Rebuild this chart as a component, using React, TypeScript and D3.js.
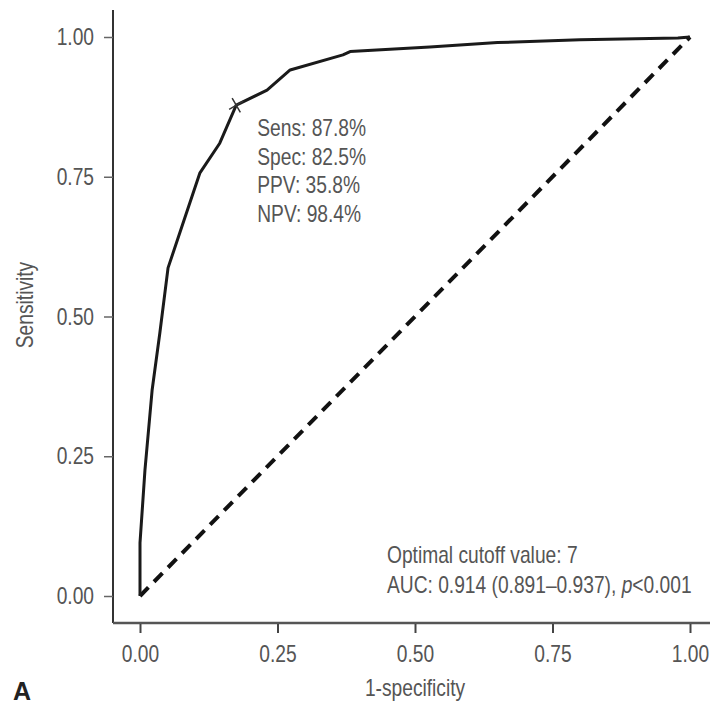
import { useEffect, useRef } from "react";
import * as d3 from "d3";

const W = 712;
const H = 707;
// plot frame (axis lines) and data range
const FRAME = { left: 113, right: 710, top: 10, bottom: 623 };
const RANGE = { x0: 140, x1: 690, y0: 596, y1: 37 };

// no condensed face installed, so squeeze a regular one horizontally
const FONT = "'Liberation Sans', Arial, sans-serif";
const SX = 0.8;
const FS = 24;
const TEXT_COLOR = "#555";

// ROC curve: 1-specificity vs sensitivity
const fpr = [0, 0, 0.009, 0.022, 0.036, 0.051, 0.08, 0.109, 0.145, 0.175, 0.231, 0.273, 0.369, 0.382, 0.527, 0.65, 0.8, 0.978, 1];
const tpr = [0, 0.095, 0.225, 0.368, 0.47, 0.587, 0.672, 0.757, 0.81, 0.878, 0.905, 0.941, 0.968, 0.974, 0.982, 0.99, 0.995, 0.998, 1];

const cutoff = { fpr: 0.175, tpr: 0.878 };
const cutoffLabels = ["Sens: 87.8%", "Spec: 82.5%", "PPV: 35.8%", "NPV: 98.4%"];
const tickValues = [0, 0.25, 0.5, 0.75, 1];

const Label = ({ x, y, rotate = 0, anchor = "start", children }) => (
  <text
    transform={`translate(${x},${y}) rotate(${rotate}) scale(${SX},1)`}
    textAnchor={anchor}
    fontFamily={FONT}
    fontSize={FS}
    fill={TEXT_COLOR}
  >
    {children}
  </text>
);

const App = () => {
  const xAxisRef = useRef(null);
  const yAxisRef = useRef(null);

  const xScale = d3.scaleLinear().domain([0, 1]).range([RANGE.x0, RANGE.x1]);
  const yScale = d3.scaleLinear().domain([0, 1]).range([RANGE.y0, RANGE.y1]);

  useEffect(() => {
    const gx = d3.select(xAxisRef.current);
    gx.selectAll("*").remove();
    gx.call(d3.axisBottom(xScale).tickValues(tickValues).tickFormat(d3.format(".2f")).tickSize(9).tickPadding(12));
    gx.select(".domain").remove();
    gx.selectAll("line").attr("stroke", "#444").attr("stroke-width", 2);
    gx.selectAll("text")
      .attr("fill", TEXT_COLOR)
      .attr("transform", `scale(${SX},1)`)
      .style("font-family", FONT)
      .style("font-size", `${FS}px`);

    const gy = d3.select(yAxisRef.current);
    gy.selectAll("*").remove();
    gy.call(d3.axisLeft(yScale).tickValues(tickValues).tickFormat(d3.format(".2f")).tickSize(9).tickPadding(10));
    gy.select(".domain").remove();
    gy.selectAll("line").attr("stroke", "#666").attr("stroke-width", 1.5);
    gy.selectAll("text")
      .attr("fill", TEXT_COLOR)
      .attr("x", -19 / SX)
      .attr("transform", `scale(${SX},1)`)
      .style("font-family", FONT)
      .style("font-size", `${FS}px`);
  }, []);

  const points = fpr.map((f, i) => [f, tpr[i]]);
  const line = d3
    .line()
    .x((d) => xScale(d[0]))
    .y((d) => yScale(d[1]));
  const linePath = line(points);
  const diagPath = line([
    [0, 0],
    [1, 1],
  ]);
  const marker = d3.symbol(d3.symbolTimes, 90)();

  const cx = xScale(cutoff.fpr);
  const cy = yScale(cutoff.tpr);

  return (
    <svg width={W} height={H} style={{ position: "absolute", left: 0, top: 0, background: "#fff" }}>
      {/* axis lines */}
      <line x1={FRAME.left} x2={FRAME.left} y1={FRAME.top} y2={FRAME.bottom} stroke="#333" strokeWidth={2} />
      <line x1={FRAME.left} x2={FRAME.right} y1={FRAME.bottom} y2={FRAME.bottom} stroke="#555" strokeWidth={2.5} />
      <g ref={xAxisRef} transform={`translate(0,${FRAME.bottom + 1})`} />
      <g ref={yAxisRef} transform={`translate(${FRAME.left},0)`} />

      {/* reference diagonal */}
      <path d={diagPath} fill="none" stroke="#111" strokeWidth={4} strokeDasharray="12,8" />
      {/* ROC curve */}
      <path d={linePath} fill="none" stroke="#1a1a1a" strokeWidth={3} strokeLinejoin="round" />
      <path d={marker} transform={`translate(${cx},${cy}) rotate(15)`} fill="none" stroke="#333" strokeWidth={1.5} />

      {cutoffLabels.map((t, i) => (
        <Label key={t} x={cx + 21} y={cy + 31 + i * 28.5}>
          {t}
        </Label>
      ))}
      <Label x={387} y={563}>Optimal cutoff value: 7</Label>
      <Label x={387} y={593}>
        AUC: 0.914 (0.891–0.937), <tspan fontStyle="italic">p</tspan>&lt;0.001
      </Label>
      <Label x={(RANGE.x0 + RANGE.x1) / 2} y={696} anchor="middle">
        1-specificity
      </Label>
      <Label x={33} y={305} rotate={-90} anchor="middle">
        Sensitivity
      </Label>
      <text x={13} y={700} fontFamily={FONT} fontWeight="bold" fontSize={25} fill="#222">
        A
      </text>
    </svg>
  );
};

export default App;
